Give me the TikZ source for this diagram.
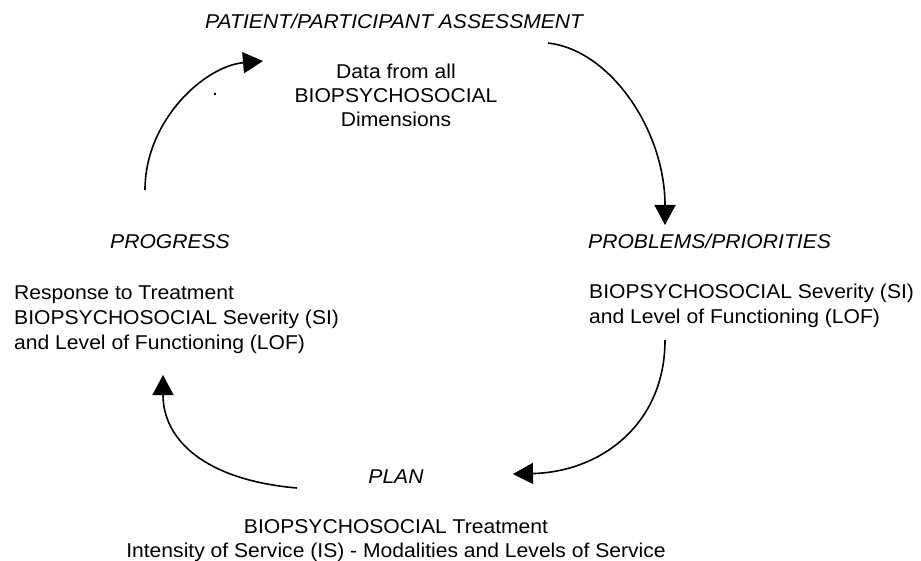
\documentclass[tikz,border=0pt]{standalone}
\usepackage{fontspec}
\setmainfont[FakeStretch=1.055]{Liberation Sans}
\usetikzlibrary{arrows.meta}
\tikzset{
  txt/.style={inner sep=0pt, font=\fontsize{20pt}{24.5pt}\selectfont},
  ttl/.style={txt, font=\fontsize{20pt}{24.5pt}\selectfont\itshape},
  arr/.style={line width=1.6pt, -{Triangle[length=20pt,width=21pt]}}
}
\begin{document}
\begin{tikzpicture}[x=1pt,y=-1pt]
\useasboundingbox[fill=white] (0,0) rectangle (921,561);
% headings
\node[ttl, anchor=base west] (assess) at (205,29) {PATIENT/PARTICIPANT ASSESSMENT};
\node[ttl, anchor=base west] (progress) at (110,249) {PROGRESS};
\node[ttl, anchor=base west] (problems) at (588,249) {PROBLEMS/PRIORITIES};
\node[ttl, anchor=base] (plan) at (396,483) {PLAN};
% top block
\node[txt, anchor=base] (d1) at (396,79) {Data from all};
\node[txt, anchor=base] (d2) at (396,103) {BIOPSYCHOSOCIAL};
\node[txt, anchor=base] (d3) at (396,127) {Dimensions};
\node[txt, anchor=base west] (dot) at (212,96) {.};
% left block
\node[txt, anchor=base west] (l1) at (14,300) {Response to Treatment};
\node[txt, anchor=base west] (l2) at (14,324.5) {BIOPSYCHOSOCIAL Severity (SI)};
\node[txt, anchor=base west] (l3) at (14,349) {and Level of Functioning (LOF)};
% right block
\node[txt, anchor=base west] (r1) at (589,299) {BIOPSYCHOSOCIAL Severity (SI)};
\node[txt, anchor=base west] (r2) at (589,323.5) {and Level of Functioning (LOF)};
% bottom block
\node[txt, anchor=base] (b1) at (396,533) {BIOPSYCHOSOCIAL Treatment};
\node[txt, anchor=base] (b2) at (396,557) {Intensity of Service (IS) - Modalities and Levels of Service};
% connector end points
\coordinate (a1s) at (145,190);
\coordinate (a1e) at (263,61);
\coordinate (a2s) at (548,43);
\coordinate (a2e) at (665,225);
\coordinate (a3s) at (665,340);
\coordinate (a3e) at (513,474);
\coordinate (a4s) at (297,488);
\coordinate (a4e) at (163,375);
% arrows
\draw[arr] (a1s) .. controls (145,120) and (205,66) .. (a1e);
\draw[arr] (a2s) .. controls (610,50) and (665,130) .. (a2e);
\draw[arr] (a3s) .. controls (665,425) and (600,472) .. (a3e);
\draw[arr] (a4s) .. controls (205,480) and (163,440) .. (a4e);
\end{tikzpicture}
\end{document}
